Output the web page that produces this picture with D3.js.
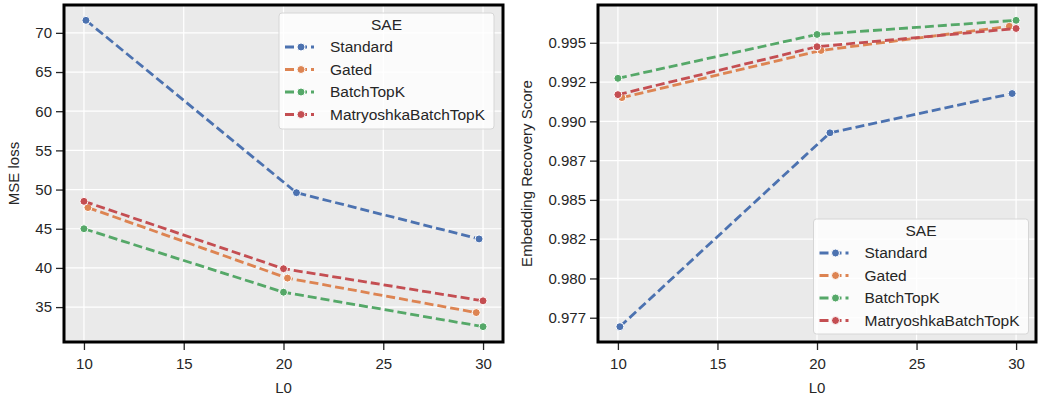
<!DOCTYPE html>
<html>
<head>
<meta charset="utf-8">
<script src="https://cdn.jsdelivr.net/npm/d3@7"></script>
<style>
  body { margin: 0; background: #fff; }
  svg text { font-family: "Liberation Sans", Arial, sans-serif; fill: #262626; }
</style>
</head>
<body>
<svg id="chart" width="1038" height="396"></svg>
<script>
// --- data ---
const seriesNames = ["Standard", "Gated", "BatchTopK", "MatryoshkaBatchTopK"];
const seriesColors = ["#4C72B0", "#DD8452", "#55A868", "#C44E52"];

// L0 actually reached by each SAE (x positions)
const l0Standard = [10.1, 20.65, 29.8];
const l0Gated = [10.2, 20.2, 29.66];
const l0BatchTopK = [10, 20, 30];
const l0Matryoshka = [10, 20, 30];

const mseStandard = [71.6, 49.6, 43.7];
const mseGated = [47.7, 38.7, 34.3];
const mseBatchTopK = [45.0, 36.9, 32.5];
const mseMatryoshka = [48.5, 39.9, 35.8];

const ersStandard = [0.97693, 0.98927, 0.99177];
const ersGated = [0.99151, 0.99451, 0.99605];
const ersBatchTopK = [0.99274, 0.99553, 0.99643];
const ersMatryoshka = [0.99170, 0.99475, 0.99591];

const xTicks = [10, 15, 20, 25, 30];
const mseTicks = [35, 40, 45, 50, 55, 60, 65, 70];
const ersTicks = [0.9775, 0.98, 0.9825, 0.985, 0.9875, 0.99, 0.9925, 0.995];
const ersTickLabels = ["0.977", "0.980", "0.982", "0.985", "0.987", "0.990", "0.992", "0.995"];

const l0All = [l0Standard, l0Gated, l0BatchTopK, l0Matryoshka];

function makeSeries(values) {
    return seriesNames.map((name, i) => ({
        name: name,
        color: seriesColors[i],
        points: values[i].map((v, j) => ({ x: l0All[i][j], y: v }))
    }));
}

// matplotlib-like 5% margins
function padded(ext) {
    const m = (ext[1] - ext[0]) * 0.05;
    return [ext[0] - m, ext[1] + m];
}

const svg = d3.select("#chart");

function drawPanel(cfg) {
    const { left, right, top, bottom } = cfg.box;
    const series = makeSeries(cfg.values);

    const x = d3.scaleLinear().domain(padded([10, 30])).range([left, right]);
    const allY = cfg.values.flat();
    const y = d3.scaleLinear().domain(padded(d3.extent(allY))).range([bottom, top]);

    const g = svg.append("g");

    g.append("rect")
        .attr("x", left).attr("y", top)
        .attr("width", right - left).attr("height", bottom - top)
        .attr("fill", "#EAEAEA");

    // grid
    g.append("g").selectAll("line")
        .data(xTicks).enter().append("line")
        .attr("x1", d => x(d)).attr("x2", d => x(d))
        .attr("y1", top).attr("y2", bottom)
        .attr("stroke", "#fff").attr("stroke-width", 1.2);
    g.append("g").selectAll("line")
        .data(cfg.yTicks).enter().append("line")
        .attr("x1", left).attr("x2", right)
        .attr("y1", d => y(d)).attr("y2", d => y(d))
        .attr("stroke", "#fff").attr("stroke-width", 1.2);

    // axes
    const xAxis = d3.axisBottom(x).tickValues(xTicks).tickSize(7).tickPadding(8);
    const yAxis = d3.axisLeft(y).tickValues(cfg.yTicks).tickSize(7).tickPadding(4)
        .tickFormat((d, i) => cfg.yTickLabels ? cfg.yTickLabels[i] : d);

    const gx = g.append("g").attr("transform", `translate(0,${bottom + 1})`).call(xAxis);
    const gy = g.append("g").attr("transform", `translate(${left - 1},0)`).call(yAxis);
    [gx, gy].forEach(a => {
        a.select(".domain").remove();
        a.selectAll(".tick line").attr("stroke", "#262626").attr("stroke-width", 1.3);
        a.selectAll(".tick text").style("font-size", "15px").attr("fill", "#262626");
    });

    // series
    const line = d3.line().x(d => x(d.x)).y(d => y(d.y));
    series.forEach(s => {
        g.append("path")
            .datum(s.points)
            .attr("d", line)
            .attr("fill", "none")
            .attr("stroke", s.color)
            .attr("stroke-width", 2.8)
            .attr("stroke-dasharray", "9,4");
        g.selectAll(null)
            .data(s.points).enter().append("circle")
            .attr("cx", d => x(d.x)).attr("cy", d => y(d.y))
            .attr("r", 4)
            .attr("fill", s.color)
            .attr("stroke", "#fff").attr("stroke-width", 1);
    });

    // frame
    g.append("rect")
        .attr("x", left).attr("y", top)
        .attr("width", right - left).attr("height", bottom - top)
        .attr("fill", "none").attr("stroke", "#000").attr("stroke-width", 3);

    // axis labels
    g.append("text")
        .attr("x", (left + right) / 2).attr("y", 393)
        .attr("text-anchor", "middle").style("font-size", "15px")
        .text("L0");
    g.append("text")
        .attr("transform", `translate(${cfg.yLabelX},${(top + bottom) / 2}) rotate(-90)`)
        .attr("text-anchor", "middle").attr("dy", "0.35em").style("font-size", "15px")
        .text(cfg.yLabel);

    // legend
    const L = cfg.legend;
    const lg = g.append("g").attr("transform", `translate(${L.x},${L.y})`);
    lg.append("rect")
        .attr("width", L.w).attr("height", L.h).attr("rx", 3)
        .attr("fill", "#fff").attr("fill-opacity", 0.8)
        .attr("stroke", "#D6D6D6").attr("stroke-width", 1);
    lg.append("text")
        .attr("x", L.w / 2).attr("y", 12).attr("dy", "0.35em")
        .attr("text-anchor", "middle").style("font-size", "15.5px")
        .text("SAE");
    const rows = lg.selectAll(".row")
        .data(series).enter().append("g")
        .attr("transform", (d, i) => `translate(0,${34 + i * 22.5})`);
    rows.append("line")
        .attr("x1", 6).attr("x2", 35).attr("y1", 0).attr("y2", 0)
        .attr("stroke", d => d.color).attr("stroke-width", 2.8)
        .attr("stroke-dasharray", "9,4");
    rows.append("circle")
        .attr("cx", 22).attr("cy", 0).attr("r", 4)
        .attr("fill", d => d.color).attr("stroke", "#fff").attr("stroke-width", 1);
    rows.append("text")
        .attr("x", 51).attr("dy", "0.35em").style("font-size", "15.5px")
        .text(d => d.name);
}

drawPanel({
    box: { left: 64, right: 503, top: 5, bottom: 342 },
    values: [mseStandard, mseGated, mseBatchTopK, mseMatryoshka],
    yTicks: mseTicks,
    yLabel: "MSE loss",
    yLabelX: 14,
    legend: { x: 279, y: 13, w: 215, h: 116 }
});

drawPanel({
    box: { left: 598, right: 1036, top: 5, bottom: 342 },
    values: [ersStandard, ersGated, ersBatchTopK, ersMatryoshka],
    yTicks: ersTicks,
    yTickLabels: ersTickLabels,
    yLabel: "Embedding Recovery Score",
    yLabelX: 527,
    legend: { x: 813.5, y: 219, w: 215, h: 115 }
});
</script>
</body>
</html>
